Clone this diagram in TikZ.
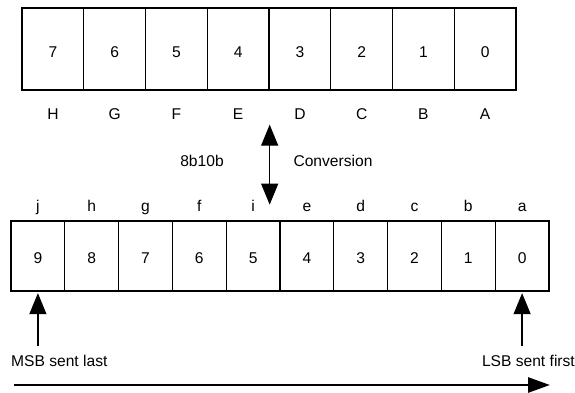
\documentclass[tikz,border=0pt]{standalone}
\usepackage{fontspec}
\setmainfont{Liberation Sans}
\usetikzlibrary{arrows.meta, positioning}

\tikzset{
	bigcell/.style={draw, line width=1.3pt, minimum width=61.75pt, minimum height=82pt, inner sep=0pt, text height=18pt, text depth=0pt, node distance=61.75pt},
	smallcell/.style={draw, line width=1.3pt, minimum width=53.8pt, minimum height=70pt, inner sep=0pt, text height=15pt, text depth=0pt, node distance=53.8pt},
	toplbl/.style={inner sep=0pt, text height=11pt, text depth=3pt, node distance=67pt},
	botlbl/.style={inner sep=0pt, text height=11pt, text depth=3pt, node distance=49pt},
	note/.style={inner sep=0pt, text height=11pt, text depth=3pt},
	conv/.style={line width=1.3pt, {Triangle[length=21pt,width=17pt]}-{Triangle[length=21pt,width=17pt]}},
	bitptr/.style={line width=1.3pt, -{Triangle[length=21pt,width=17pt]}, shorten >=1.5pt},
	flow/.style={line width=2.8pt, -{Triangle[length=22pt,width=15pt]}}
}

\begin{document}
\begin{tikzpicture}[x=1pt,y=-1pt,font=\fontsize{15.6pt}{18pt}\selectfont]
			\useasboundingbox (0,0) rectangle (575,393);
			\node[bigcell] (t7) at (52.9,49) {7};
			\node[bigcell] (t6) [right of=t7] {6};
			\node[bigcell] (t5) [right of=t6] {5};
			\node[bigcell] (t4) [right of=t5] {4};
			\node[bigcell] (t3) [right of=t4] {3};
			\node[bigcell] (t2) [right of=t3] {2};
			\node[bigcell] (t1) [right of=t2] {1};
			\node[bigcell] (t0) [right of=t1] {0};
			\node[toplbl] (H) [below of=t7] {H};
			\node[toplbl] (G) [below of=t6] {G};
			\node[toplbl] (F) [below of=t5] {F};
			\node[toplbl] (E) [below of=t4] {E};
			\node[toplbl] (D) [below of=t3] {D};
			\node[toplbl] (C) [below of=t2] {C};
			\node[toplbl] (B) [below of=t1] {B};
			\node[toplbl] (A) [below of=t0] {A};
			
			\coordinate (convtop) at ([yshift=-34pt]t4.south east);
			\coordinate (convbot) at ([yshift=-114pt]t4.south east);
			\node[note] (enc) at (202,162) {8b10b};
			\node[note] (conversion) at (333,162) {Conversion};
			
			\node[smallcell] (b9) at (37.9,256) {9};
			\node[smallcell] (b8) [right of=b9] {8};
			\node[smallcell] (b7) [right of=b8] {7};
			\node[smallcell] (b6) [right of=b7] {6};
			\node[smallcell] (b5) [right of=b6] {5};
			\node[smallcell] (b4) [right of=b5] {4};
			\node[smallcell] (b3) [right of=b4] {3};
			\node[smallcell] (b2) [right of=b3] {2};
			\node[smallcell] (b1) [right of=b2] {1};
			\node[smallcell] (b0) [right of=b1] {0};
			\node[botlbl] (j) [above of=b9] {j};
			\node[botlbl] (h) [above of=b8] {h};
			\node[botlbl] (g) [above of=b7] {g};
			\node[botlbl] (f) [above of=b6] {f};
			\node[botlbl] (i) [above of=b5] {i};
			\node[botlbl] (e) [above of=b4] {e};
			\node[botlbl] (d) [above of=b3] {d};
			\node[botlbl] (c) [above of=b2] {c};
			\node[botlbl] (b) [above of=b1] {b};
			\node[botlbl] (a) [above of=b0] {a};
			
			\node[note, anchor=west] (msb) at (11,362) {MSB sent last};
			\node[note, anchor=east] (lsb) at (575,362) {LSB sent first};
			\coordinate (flowstart) at (14,385);
			\coordinate (flowend) at (550,385);
			
			\draw[conv] (convtop) -- (convbot);
			\draw[bitptr] ([yshift=9pt]b9.south |- msb.north) -- (b9.south);
			\draw[bitptr] ([yshift=9pt]b0.south |- lsb.north) -- (b0.south);
			\draw[flow] (flowstart) -- (flowend);
		\end{tikzpicture}
\end{document}
